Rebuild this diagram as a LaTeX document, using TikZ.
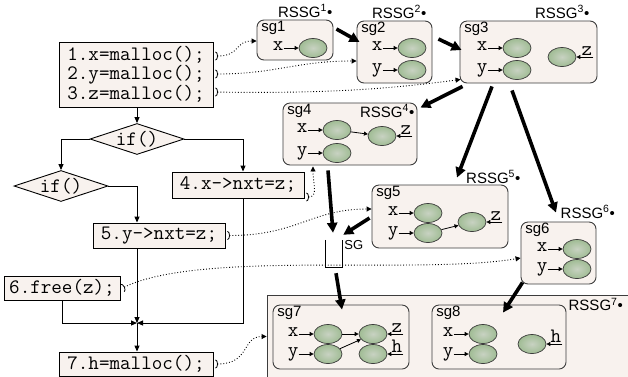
\documentclass[tikz,border=0pt]{standalone}
\usepackage{fontspec}
\setmainfont{Liberation Sans}
\usetikzlibrary{positioning, arrows.meta, shapes.geometric}
\definecolor{paper}{RGB}{248,242,238}
\definecolor{cellin}{RGB}{200,210,194}
\definecolor{cellout}{RGB}{160,188,148}
\definecolor{frame}{RGB}{60,60,60}

\begin{document}
\begin{tikzpicture}[
  x=1pt, y=-1pt,
  stmt/.style={draw, fill=paper, line width=0.9pt, inner sep=0pt, align=left,
               font=\fontsize{20.5}{18.5}\selectfont\ttfamily},
  test/.style={draw, fill=paper, diamond, aspect=3, line width=0.9pt, inner sep=0pt,
               minimum width=94pt, minimum height=31pt,
               font=\fontsize{20.5}{20}\selectfont\ttfamily},
  sgbox/.style={draw=frame, fill=paper, rounded corners=7pt, line width=0.9pt, inner sep=0pt},
  sglabel/.style={font=\fontsize{15}{15}\selectfont, inner sep=0.5pt, anchor=north west},
  rssg/.style={font=\fontsize{15}{15}\selectfont, inner sep=1pt},
  cell/.style={ellipse, draw=frame, line width=0.7pt, inner color=cellin, outer color=cellout,
               minimum width=28pt, minimum height=19pt, inner sep=0pt},
  var/.style={font=\fontsize{20.5}{20}\selectfont\ttfamily, inner sep=0pt,
              text height=1ex, text depth=0pt},
  ptr/.style={-{Triangle[length=4pt,width=4pt]}, line width=0.8pt},
  flow/.style={-{Triangle[length=6pt,width=5pt]}, line width=1pt},
  bigarrow/.style={-{Triangle[length=10pt,width=10pt]}, line width=3.6pt},
  trace/.style={{Arc Barb[reversed,length=2.5pt,width=9pt,line width=0.8pt]}-{Triangle[length=5pt,width=5pt]},
                dotted, line width=0.9pt}
]
  \useasboundingbox (0,0) rectangle (628,376);

  % Program
  \node[stmt, minimum width=154pt, minimum height=65pt] (stA) at (136,74.5)
    {1.x=malloc();\\2.y=malloc();\\3.z=malloc();};
  \node[test] (if1) at (137,139) {if()};
  \node[test] (if2) at (61,186) {if()};
  \node[stmt, minimum width=132pt, minimum height=26pt] (st4) at (238,185) {4.x->nxt=z;};
  \node[stmt, minimum width=132pt, minimum height=25pt] (st5) at (159,235.5) {5.y->nxt=z;};
  \node[stmt, minimum width=116pt, minimum height=24pt] (st6) at (62,288) {6.free(z);};
  \node[stmt, minimum width=154pt, minimum height=24pt] (st7) at (136,364) {7.h=malloc();};
  \coordinate (join) at (137,323);

  % Control flow
  \draw[flow] (stA.south -| if1) -- (if1.north);
  \draw[flow] (if1.west) -| (if2.north);
  \draw[flow] (if1.east) -| ([xshift=5pt]st4.north);
  \draw[flow] (if2.east) -| (st5.north -| join);
  \draw[flow] (st5.south -| join) -- (join);
  \draw[flow] (st6.south) |- (join);
  \draw[flow] ([xshift=5pt]st4.south) |- (join);
  \draw[flow] (join) -- (st7.north -| join);

  % Shape graph boxes
  \node[draw=frame, fill=paper, line width=0.9pt, inner sep=0pt,
        minimum width=363pt, minimum height=83pt] (big) at (448.5,336.5) {};
  \node[sgbox, minimum width=76pt, minimum height=40pt] (sg1) at (295,40) {};
  \node[sgbox, minimum width=75pt, minimum height=62pt] (sg2) at (394.5,52) {};
  \node[sgbox, minimum width=137pt, minimum height=62pt] (sg3) at (528.5,52) {};
  \node[sgbox, minimum width=134pt, minimum height=62pt] (sg4) at (350,134) {};
  \node[sgbox, minimum width=136pt, minimum height=63pt] (sg5) at (440,216.5) {};
  \node[sgbox, minimum width=75pt, minimum height=62pt] (sg6) at (558.5,253) {};
  \node[sgbox, minimum width=136pt, minimum height=64pt] (sg7) at (341,337) {};
  \node[sgbox, minimum width=134pt, minimum height=64pt] (sg8) at (499,337) {};

  \node[sglabel] (sg1t) at ([xshift=4pt,yshift=-1pt]sg1.north west) {sg1};
  \node[sglabel] (sg2t) at ([xshift=4pt,yshift=-1pt]sg2.north west) {sg2};
  \node[sglabel] (sg3t) at ([xshift=4pt,yshift=-1pt]sg3.north west) {sg3};
  \node[sglabel] (sg4t) at ([xshift=4pt,yshift=-1pt]sg4.north west) {sg4};
  \node[sglabel] (sg5t) at ([xshift=4pt,yshift=-1pt]sg5.north west) {sg5};
  \node[sglabel] (sg6t) at ([xshift=4pt,yshift=-1pt]sg6.north west) {sg6};
  \node[sglabel] (sg7t) at ([xshift=4pt,yshift=-1pt]sg7.north west) {sg7};
  \node[sglabel] (sg8t) at ([xshift=4pt,yshift=-1pt]sg8.north west) {sg8};

  % RSSG labels
  \node[rssg, above left=1pt and 0pt of sg1.north east] (r1) {RSSG\textsuperscript{1}•};
  \node[rssg, above left=1pt and 5pt of sg2.north east] (r2) {RSSG\textsuperscript{2}•};
  \node[rssg, above left=1pt and 7pt of sg3.north east] (r3) {RSSG\textsuperscript{3}•};
  \node[rssg, below left=1pt and 2pt of sg4.north east] (r4) {RSSG\textsuperscript{4}•};
  \node[rssg, above right=0pt and 25pt of sg5.north] (r5) {RSSG\textsuperscript{5}•};
  \node[rssg, above right=2pt and 1pt of sg6.north] (r6) {RSSG\textsuperscript{6}•};
  \node[rssg, right=1pt of sg8.north east] (r7) {RSSG\textsuperscript{7}•};

  % Cells: sg1
  \node[cell] (c1x) at (313,48) {};
  \node[var, left=15pt of c1x] (v1x) {x};
  \draw[ptr] (v1x) -- (c1x);
  % sg2
  \node[cell] (c2x) at (412,48) {};
  \node[cell] (c2y) at (412,70) {};
  \node[var, left=15pt of c2x] (v2x) {x};
  \node[var, left=15pt of c2y] (v2y) {y};
  \draw[ptr] (v2x) -- (c2x);
  \draw[ptr] (v2y) -- (c2y);
  % sg3
  \node[cell] (c3x) at (517,48) {};
  \node[cell] (c3y) at (517,70) {};
  \node[cell] (c3z) at (562,57) {};
  \node[var, left=15pt of c3x] (v3x) {x};
  \node[var, left=15pt of c3y] (v3y) {y};
  \coordinate[right=17pt of c3z] (p3z);
  \node[var, anchor=south east, inner sep=1pt] (v3z) at (p3z) {z};
  \draw[ptr] (v3x) -- (c3x);
  \draw[ptr] (v3y) -- (c3y);
  \draw[ptr] (p3z) -- (c3z);
  % sg4
  \node[cell] (c4x) at (337,130) {};
  \node[cell] (c4y) at (337,153) {};
  \node[cell] (c4z) at (382,136) {};
  \node[var, left=15pt of c4x] (v4x) {x};
  \node[var, left=15pt of c4y] (v4y) {y};
  \coordinate[right=16pt of c4z] (p4z);
  \node[var, anchor=south east, inner sep=1pt] (v4z) at (p4z) {z};
  \draw[ptr] (v4x) -- (c4x);
  \draw[ptr] (v4y) -- (c4y);
  \draw[ptr] (p4z) -- (c4z);
  \draw[ptr] (c4x) -- (c4z);
  % sg5
  \node[cell] (c5x) at (428,213) {};
  \node[cell] (c5y) at (428,233) {};
  \node[cell] (c5z) at (472,222) {};
  \node[var, left=15pt of c5x] (v5x) {x};
  \node[var, left=15pt of c5y] (v5y) {y};
  \coordinate[right=16pt of c5z] (p5z);
  \node[var, anchor=south east, inner sep=1pt] (v5z) at (p5z) {z};
  \draw[ptr] (v5x) -- (c5x);
  \draw[ptr] (v5y) -- (c5y);
  \draw[ptr] (p5z) -- (c5z);
  \draw[ptr] (c5y) -- (c5z);
  % sg6
  \node[cell] (c6x) at (577,249) {};
  \node[cell] (c6y) at (577,269) {};
  \node[var, left=15pt of c6x] (v6x) {x};
  \node[var, left=15pt of c6y] (v6y) {y};
  \draw[ptr] (v6x) -- (c6x);
  \draw[ptr] (v6y) -- (c6y);
  % sg7
  \node[cell] (c7x) at (328,334) {};
  \node[cell] (c7y) at (328,354) {};
  \node[cell] (c7z) at (373,334) {};
  \node[cell] (c7h) at (373,354) {};
  \node[var, left=15pt of c7x] (v7x) {x};
  \node[var, left=15pt of c7y] (v7y) {y};
  \coordinate[right=16pt of c7z] (p7z);
  \coordinate[right=16pt of c7h] (p7h);
  \node[var, anchor=south east, inner sep=1pt] (v7z) at (p7z) {z};
  \node[var, anchor=south east, inner sep=1pt] (v7h) at (p7h) {h};
  \draw[ptr] (v7x) -- (c7x);
  \draw[ptr] (v7y) -- (c7y);
  \draw[ptr] (p7z) -- (c7z);
  \draw[ptr] (p7h) -- (c7h);
  \draw[ptr] (c7x) -- (c7z);
  \draw[ptr] (c7y) -- (c7z);
  % sg8
  \node[cell] (c8x) at (483,334) {};
  \node[cell] (c8y) at (483,354) {};
  \node[cell] (c8h) at (532,344) {};
  \node[var, left=15pt of c8x] (v8x) {x};
  \node[var, left=15pt of c8y] (v8y) {y};
  \coordinate[right=16pt of c8h] (p8h);
  \node[var, anchor=south east, inner sep=1pt] (v8h) at (p8h) {h};
  \draw[ptr] (v8x) -- (c8x);
  \draw[ptr] (v8y) -- (c8y);
  \draw[ptr] (p8h) -- (c8h);

  % Summary graph
  \node[minimum width=16pt, minimum height=27pt, inner sep=0pt] (bin) at (334,253.5) {};
  \draw[line width=1.3pt] (bin.north west) |- (bin.south east) -- (bin.north east);
  \node[font=\fontsize{13}{13}\selectfont, inner sep=0pt, anchor=north west]
    (bint) at ([xshift=2pt]bin.north east) {SG};

  % Transfer steps
  \draw[bigarrow] ([xshift=3pt,yshift=11pt]sg1.east) -- ([xshift=3pt,yshift=10pt]sg2.west);
  \draw[bigarrow] ([xshift=6pt,yshift=13pt]sg2.east) -- ([xshift=2pt,yshift=2pt]sg3.west);
  \draw[bigarrow] ([xshift=3pt,yshift=-3pt]sg3.south west) -- ([xshift=3pt,yshift=-5pt]sg4.north east);
  \draw[bigarrow] ([xshift=-36.5pt,yshift=-3pt]sg3.south) -- ([xshift=17pt,yshift=7pt]sg5.north);
  \draw[bigarrow] ([xshift=-16.5pt,yshift=-7pt]sg3.south) -- ([xshift=-2.5pt,yshift=9pt]sg6.north);
  \draw[bigarrow] ([xshift=-22pt,yshift=-5pt]sg4.south) -- ([xshift=-1pt,yshift=7pt]bin.north);
  \draw[bigarrow] ([xshift=-2pt,yshift=-1.5pt]sg5.west) -- ([xshift=1pt,yshift=5pt]bin.north east);
  \draw[bigarrow] ([xshift=2pt,yshift=-6pt]bin.south) -- ([xshift=1pt,yshift=-5pt]sg7.north);
  \draw[bigarrow] ([xshift=2pt,yshift=2pt]sg6.south west) -- ([xshift=4pt,yshift=-8pt]sg8.north);

  % Statement to graph traces
  \coordinate (t1) at ([xshift=2pt,yshift=18.5pt]stA.east);
  \coordinate (t2) at ([xshift=2pt,yshift=0.5pt]stA.east);
  \coordinate (t3) at ([xshift=2pt,yshift=-17.5pt]stA.east);
  \draw[trace] (t1) .. controls +(25,0) and +(-22,0) .. ([yshift=-1pt]sg1.west);
  \draw[trace] (t2) .. controls +(60,0) and +(-60,0) .. ([yshift=-9pt]sg2.west);
  \draw[trace] (t3) .. controls +(120,2) and +(-60,8) .. ([xshift=1pt,yshift=4pt]sg3.south west);
  \draw[trace] ([xshift=2pt,yshift=-12pt]st4.east) .. controls +(12,0) and +(0,18) .. ([xshift=-37pt,yshift=-1pt]sg4.south);
  \draw[trace] ([xshift=2pt]st5.east) .. controls +(70,0) and +(-60,0) .. ([yshift=7.5pt]sg5.west);
  \draw[trace] ([xshift=2pt]st6.east) .. controls +(78,-38) and +(-101,17) .. ([yshift=-5pt]sg6.west);
  \draw[trace] ([xshift=2pt]st7.east) .. controls +(35,0) and +(-25,0) .. (big.west);
\end{tikzpicture}
\end{document}
